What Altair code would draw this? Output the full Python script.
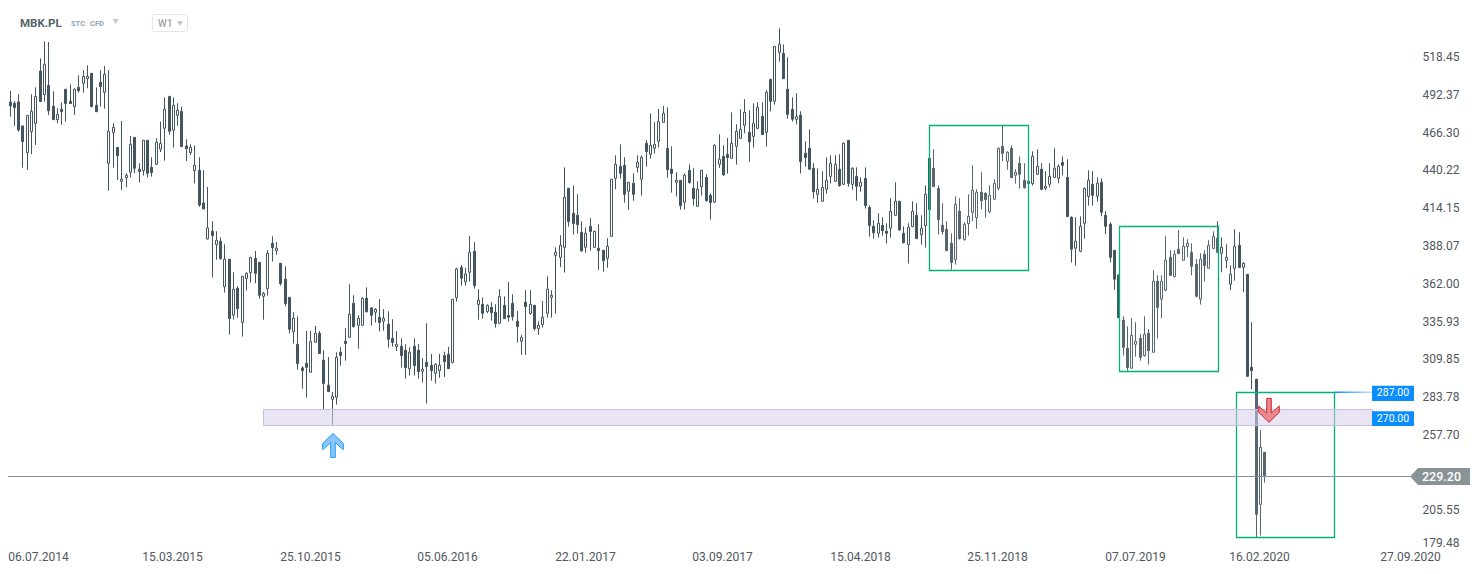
import altair as alt
import pandas as pd

opens = [
496.5,487.1,486.2,487.1,470.6,452.2,466.7,472.2,508.5,492.2,
498.6,484.1,474.9,482.1,495.9,487.6,483.9,497.2,500.0,503.4,
506.9,484.8,500.7,493.8,444.8,466.0,455.8,432.4,434.9,438.6,
462.7,440.7,439.8,460.7,442.0,444.1,454.5,469.0,491.0,467.6,
477.9,480.7,456.8,452.2,439.8,440.0,417.4,392.6,397.9,388.7,
391.0,359.7,378.6,340.0,358.6,335.1,365.4,369.4,379.2,376.5,
353.0,358.3,389.6,384.5,375.8,364.8,352.3,328.6,319.9,303.6,
306.8,300.6,321.3,327.5,308.9,291.6,282.0,283.3,314.4,322.0,
324.7,348.2,333.0,333.0,351.7,345.0,342.0,338.5,335.8,333.7,
324.0,318.3,318.5,315.8,303.1,318.5,315.8,301.3,307.5,305.4,
299.9,301.7,312.1,313.0,307.3,352.1,373.0,363.2,369.6,384.1,
347.3,347.5,342.5,345.4,342.0,334.4,346.8,339.9,348.2,335.8,
322.0,348.9,341.1,346.8,330.7,333.5,341.3,352.3,381.3,379.9,
386.8,427.6,410.3,408.9,397.2,386.8,401.3,386.8,386.2,384.8,
379.3,394.4,434.4,442.7,443.4,425.5,431.0,442.0,433.8,458.6,
451.0,455.2,460.0,473.1,455.2,440.7,431.7,433.1,417.9,440.0,
427.5,415.1,428.7,435.1,422.7,417.9,444.1,449.6,451.0,448.3,
456.5,462.0,471.0,466.2,463.4,468.9,477.2,466.2,502.8,487.6,
521.4,520.7,495.9,482.1,475.2,477.9,451.7,455.2,441.4,423.4,
418.6,426.9,435.8,432.4,440.7,430.3,460.7,430.3,435.8,428.9,
434.4,414.4,401.3,396.5,402.0,397.9,400.0,408.9,418.6,396.5,
388.7,401.1,408.9,395.6,401.8,448.3,441.4,427.5,402.0,399.3,
389.6,378.3,411.7,392.1,403.2,411.0,407.3,424.8,424.1,411.4,
420.0,427.6,456.5,446.2,455.2,436.5,444.8,433.1,432.4,430.8,
437.2,440.7,427.5,430.3,435.1,434.4,445.5,435.1,407.5,386.2,
384.1,403.4,422.0,430.3,422.0,431.7,408.9,402.7,384.8,367.8,
336.5,317.2,303.4,319.9,324.0,312.1,327.5,314.4,363.4,351.0,
357.2,379.9,366.6,385.5,377.9,387.5,383.4,375.1,351.0,382.0,
372.4,386.1,393.1,382.7,377.9,361.3,372.4,388.2,373.0,368.2,
304.0,295.8,209.5,245.4]

highs = [
504.1,494.7,487.8,492.4,470.6,477.9,492.4,497.2,517.2,529.0,
528.5,494.5,482.8,486.7,495.9,499.3,496.6,505.5,509.2,512.4,
506.9,497.2,509.0,512.0,509.0,472.4,455.8,474.0,437.9,463.7,
462.7,444.8,460.7,460.7,448.9,462.1,473.6,490.3,491.0,490.3,
486.2,483.9,461.4,457.9,457.2,449.0,440.0,428.5,404.8,397.9,
393.7,388.9,378.6,369.6,359.9,366.8,369.6,379.9,384.3,376.5,
356.0,384.8,394.4,390.5,375.8,373.7,352.3,342.0,339.2,304.7,
329.1,329.1,332.6,329.1,315.8,311.2,287.0,314.4,317.8,331.0,
361.3,353.7,339.9,352.3,359.2,345.4,344.8,351.0,344.1,342.7,
337.2,328.9,324.0,319.9,317.8,324.0,320.1,310.3,334.4,313.2,
306.8,313.2,314.8,318.1,351.0,372.8,374.6,372.8,394.7,390.3,
357.9,352.3,347.5,348.9,347.5,357.9,353.0,362.9,354.4,342.9,
326.4,357.2,357.2,346.8,335.8,349.8,366.8,357.2,386.8,395.1,
442.0,427.6,429.6,423.4,404.8,400.6,406.9,398.3,402.7,384.8,
393.1,433.8,450.3,457.9,448.9,431.7,437.9,450.3,450.3,460.7,
479.3,473.1,482.3,484.4,483.4,456.5,438.6,433.1,437.9,444.1,
441.4,432.4,440.0,437.2,424.1,457.9,464.8,457.2,462.3,480.0,
471.7,482.1,489.0,481.4,486.2,486.9,486.9,495.2,502.8,525.5,
537.9,526.9,517.9,490.3,493.1,480.7,460.0,468.3,444.8,441.4,
439.3,448.9,450.3,450.3,451.0,459.3,460.7,442.0,442.0,435.1,
442.0,415.8,405.5,410.3,407.5,403.4,420.7,431.7,418.6,401.3,
403.4,418.6,417.2,408.9,429.6,448.3,454.5,429.6,417.2,404.8,
396.5,422.0,420.7,404.1,423.4,443.4,426.9,438.6,424.8,429.6,
433.8,455.8,470.8,453.1,457.2,440.7,449.6,444.8,432.4,453.1,
454.5,444.8,439.3,444.8,455.2,444.1,449.6,447.6,408.2,407.5,
408.2,428.2,440.0,439.3,435.1,434.4,411.7,404.1,384.8,367.8,
339.2,332.3,337.9,335.1,326.8,339.2,330.3,371.0,367.5,367.5,
394.4,384.8,384.8,398.6,393.7,392.4,389.6,378.6,382.7,384.8,
391.7,397.9,404.8,393.7,388.9,374.4,399.3,397.2,376.5,368.2,
335.1,295.8,260.6,245.4]

lows = [
481.6,477.0,470.6,466.6,441.8,440.2,451.2,457.5,487.4,487.4,
478.2,474.7,472.4,471.3,473.6,485.7,478.2,493.6,493.6,496.6,
483.4,480.2,483.9,482.5,425.9,441.8,433.3,426.4,428.2,435.1,
437.9,431.5,436.3,435.1,435.6,443.7,452.6,446.6,464.6,455.6,
470.6,456.1,446.4,450.5,431.0,414.7,413.3,392.2,365.9,378.3,
378.3,355.6,326.6,336.9,338.3,325.2,357.0,362.5,362.0,351.4,
336.9,353.5,377.0,381.8,360.4,346.1,327.3,320.4,302.4,289.3,
283.1,300.6,321.3,313.5,275.3,287.2,264.2,278.3,305.2,308.6,
324.7,331.4,316.9,333.0,341.8,332.8,334.9,328.7,329.3,317.6,
318.3,315.3,303.8,296.2,298.3,298.3,296.2,293.5,279.0,294.8,
292.8,296.7,297.4,303.1,306.8,349.4,360.4,360.4,363.2,358.3,
336.9,337.6,341.3,336.2,331.4,334.4,337.6,335.6,336.2,321.1,
312.6,312.6,340.4,329.3,326.4,331.4,338.3,338.3,341.1,373.3,
369.4,401.1,395.6,396.3,383.9,383.2,384.5,386.8,371.2,370.0,
372.8,394.4,426.9,434.4,417.7,412.6,419.0,438.4,422.5,442.5,
448.0,451.5,455.8,473.1,434.9,424.6,421.8,412.8,412.8,430.8,
415.6,415.1,422.5,418.4,405.9,417.9,441.6,436.3,437.7,448.3,
443.9,462.0,465.5,445.9,455.6,468.3,464.6,456.3,480.5,485.3,
515.0,503.2,475.6,473.6,471.7,437.7,442.5,440.7,420.4,417.7,
418.6,423.9,430.8,432.4,428.7,430.3,428.7,426.6,419.0,425.2,
413.5,394.2,392.8,393.5,394.9,389.4,393.5,408.9,398.3,389.4,
375.6,400.6,392.8,388.7,386.6,412.8,428.7,395.6,395.6,384.5,
371.2,374.9,392.1,391.4,394.9,404.8,399.7,413.1,407.3,410.3,
420.0,426.2,446.2,440.4,434.9,430.8,427.3,427.3,430.8,429.4,
437.2,426.2,426.2,428.2,435.1,431.0,436.5,408.0,376.3,374.2,
383.4,392.8,415.6,415.6,418.4,408.2,395.8,376.5,357.6,338.3,
312.1,301.7,303.4,311.4,308.6,311.4,305.9,314.4,323.8,337.9,
356.5,367.5,366.1,382.0,377.9,379.9,367.5,352.3,347.3,363.4,
372.4,385.5,382.7,369.6,372.4,357.2,363.8,372.4,355.8,297.8,
288.9,186.7,187.9,224.5]

closes = [
486.7,484.4,483.2,467.8,459.8,477.9,480.7,491.0,487.4,513.1,
481.1,474.9,478.6,480.5,486.0,486.0,495.9,494.9,504.8,504.8,
483.9,480.4,497.7,506.2,466.9,469.6,450.1,433.8,436.5,457.9,
441.4,439.1,460.7,437.9,438.4,459.3,458.4,482.1,466.9,484.8,
481.4,456.3,454.9,455.8,443.4,416.0,413.3,400.2,394.9,391.7,
379.0,378.6,337.6,357.9,344.5,366.8,368.9,379.9,368.9,353.7,
355.1,382.7,386.6,386.2,361.8,348.0,330.3,337.9,306.6,301.7,
304.0,321.8,327.5,313.5,292.8,287.2,284.0,310.9,312.1,320.4,
340.6,332.1,337.9,351.7,342.4,339.9,344.1,334.9,337.9,323.4,
321.1,319.9,312.1,303.8,314.4,305.2,301.0,302.7,304.5,301.7,
306.1,305.4,307.9,303.1,351.0,371.9,365.5,368.4,383.4,360.4,
350.3,341.3,346.8,341.8,334.2,353.0,337.6,338.5,339.0,332.1,
324.7,345.9,347.5,330.7,333.0,338.5,357.9,353.7,383.4,388.2,
421.3,404.6,403.2,402.5,384.3,396.5,397.7,397.9,384.5,377.6,
387.5,433.8,444.1,437.9,423.4,431.7,423.4,445.5,448.9,452.9,
457.2,457.9,473.5,479.3,440.4,437.7,433.1,415.6,436.5,431.5,
420.4,426.9,440.0,419.0,417.7,457.2,447.6,436.8,448.7,458.6,
466.9,468.3,480.0,459.7,472.4,483.4,464.6,493.8,487.6,525.5,
526.9,503.2,478.6,475.2,477.0,445.9,448.7,440.7,425.2,426.9,
428.2,433.1,444.8,444.1,429.4,458.6,431.0,441.4,428.9,431.7,
415.6,401.8,396.9,403.4,398.3,396.5,411.7,418.6,398.8,390.1,
400.6,411.7,392.8,400.0,423.4,412.8,428.7,405.9,397.6,384.5,
376.3,416.5,392.8,402.7,408.2,426.2,424.8,419.0,419.7,422.7,
431.0,455.2,451.7,452.4,434.9,438.6,437.2,428.0,430.8,449.6,
442.7,426.9,428.9,435.8,441.4,442.7,443.4,408.0,385.5,391.0,
401.3,427.5,433.1,422.7,431.0,411.0,401.3,379.9,364.8,338.3,
317.8,303.8,326.1,322.0,310.9,326.8,315.5,363.4,345.4,363.4,
377.9,367.5,382.0,382.5,387.5,389.6,373.7,353.0,378.6,374.2,
388.2,394.4,383.4,386.8,379.9,368.2,387.5,373.0,375.8,297.8,
301.7,202.6,248.8,229.2]

date_ticks = [7.6, 38.8, 70.9, 102.8, 134.9, 166.8, 198.9, 230.8, 262.9, 291.8, 326.9]
date_labels = ["06.07.2014", "15.03.2015", "25.10.2015", "05.06.2016", "22.01.2017", "03.09.2017",
               "15.04.2018", "25.11.2018", "07.07.2019", "16.02.2020", "27.09.2020"]
price_ticks = [518.45, 492.37, 466.30, 440.22, 414.15, 388.07, 362.00, 335.93, 309.85, 283.78,
               257.70, 231.63, 205.55, 183.0]

last_price = 229.20
level_high = 287.00
level_low = 270.00

boxes = pd.DataFrame({"x1": [215.0, 259.2, 286.4], "x2": [238.0, 282.2, 309.2],
                      "top": [470.89, 401.19, 286.63], "bottom": [370.83, 301.12, 186.56]})
band = pd.DataFrame({"x1": [60.0], "x2": [318.0], "top": [274.9], "bottom": [263.86]})

INK = "#44555f"
df = pd.DataFrame({"i": range(len(opens)), "open": opens, "high": highs, "low": lows, "close": closes})
df["dir"] = ["up" if c >= o else "down" for o, c in zip(opens, closes)]

xs = alt.Scale(domain=[0.628, 326.9], nice=False, zero=False, round=True, padding=0)
ys = alt.Scale(domain=[180.0, 551.98], nice=False, zero=False, padding=0)

label_list = "[" + ",".join(f"'{s}'" for s in date_labels) + "]"
tick_list = "[" + ",".join(str(v) for v in date_ticks) + "]"
x_axis = alt.Axis(values=date_ticks, labelExpr=f"{label_list}[indexof({tick_list},datum.value)]",
                  title=None, grid=False, domain=False, ticks=False, labelPadding=4, labelFlush=False,
                  labelFontSize=12, labelFont="Roboto", labelColor="#50575d", labelOverlap=False)
y_axis = alt.Axis(values=price_ticks, orient="right",
                  labelExpr="datum.value==183 ? '179.48' : format(datum.value,'.2f')",
                  title=None, grid=False, domain=False, ticks=False, labelPadding=12,
                  labelFontSize=12, labelFont="Roboto", labelColor="#50575d", labelOverlap=False)

def X(field):
    return alt.X(f"{field}:Q", scale=xs, axis=x_axis)

def Y(field):
    return alt.Y(f"{field}:Q", scale=ys, axis=y_axis)

one = pd.DataFrame({"k": [0]})

wicks = alt.Chart(df).mark_rule(stroke=INK, strokeWidth=1, xOffset=0.5).encode(
    x=X("i"), y=Y("low"), y2="high:Q",
)
bodies = alt.Chart(df).mark_bar(size=2, xOffset=0.5, stroke=INK, strokeWidth=1).encode(
    x=X("i"), y=Y("open"), y2="close:Q",
    fill=alt.Fill("dir:N", scale=alt.Scale(domain=["up", "down"], range=["#ffffff", INK]), legend=None),
)
box_marks = alt.Chart(boxes).mark_rect(fill="#ffffff", fillOpacity=0.1, stroke="#00b27a", strokeWidth=1.3,
                                       xOffset=0.5, x2Offset=0.5).encode(
    x=X("x1"), x2="x2:Q", y=Y("top"), y2="bottom:Q",
)
last_line = alt.Chart(pd.DataFrame({"p": [last_price]})).mark_rule(stroke="#82939a", strokeWidth=1, yOffset=0.8).encode(
    x=alt.value(-6), x2=alt.value(1402), y=Y("p"),
)
band_mark = alt.Chart(band).mark_rect(fill="#d9d0ec", fillOpacity=0.55, stroke="#c9c0dd", strokeWidth=1,
                                      xOffset=0.5, x2Offset=0.5).encode(
    x=X("x1"), x2="x2:Q", y=Y("top"), y2="bottom:Q",
)
connector = alt.Chart(one).mark_rect(
    color=alt.LinearGradient(gradient="linear", x1=0, x2=1, y1=0, y2=0,
                             stops=[alt.GradientStop(color="#0a8dff", offset=0),
                                    alt.GradientStop(color="#c9e2f8", offset=1)])
).encode(x=alt.value(1327), x2=alt.value(1364), y=alt.value(383.6), y2=alt.value(385))

ARROW_UP = "M0,-1 L0.86,-0.16 L0.86,0.36 L0.19,-0.22 L0.19,1 L-0.19,1 L-0.19,-0.22 L-0.86,0.36 L-0.86,-0.16 Z"
ARROW_DOWN = "M0,1 L0.86,0.16 L0.86,-0.36 L0.19,0.22 L0.19,-1 L-0.19,-1 L-0.19,0.22 L-0.86,-0.36 L-0.86,0.16 Z"
TAG = "M-1,0 L-0.733,-0.283 L1,-0.283 L1,0.283 L-0.733,0.283 Z"

up_arrow = alt.Chart(pd.DataFrame({"i": [76.3], "p": [250.1]})).mark_point(
    shape=ARROW_UP, size=576, filled=True, fill="#8cc6fb", stroke="#1e9bff", strokeWidth=1, opacity=1
).encode(x=X("i"), y=Y("p"))
down_arrow = alt.Chart(pd.DataFrame({"i": [294.1], "p": [274.3]})).mark_point(
    shape=ARROW_DOWN, size=576, filled=True, fill="#e58a90", stroke="#d6242b", strokeWidth=1, opacity=1
).encode(x=X("i"), y=Y("p"))
price_tag = alt.Chart(pd.DataFrame({"p": [last_price]})).mark_point(
    shape=TAG, size=3600, filled=True, fill="#8a9496", strokeWidth=0, opacity=1, yOffset=0.8
).encode(x=alt.value(1432), y=Y("p"))
tag_text = alt.Chart(pd.DataFrame({"p": [last_price]})).mark_text(
    text=f"{last_price:.2f}", align="left", baseline="middle", font="Roboto", fontSize=12.5,
    fontWeight=500, color="#ffffff", yOffset=0.8
).encode(x=alt.value(1414), y=Y("p"))

def level_flag(value, y1, y2):
    rect = alt.Chart(one).mark_rect(fill="#0a8dff").encode(
        x=alt.value(1364), x2=alt.value(1406), y=alt.value(y1), y2=alt.value(y2))
    text = alt.Chart(one).mark_text(text=f"{value:.2f}", align="center", baseline="middle", font="Roboto",
                                    fontSize=10.5, color="#ffffff").encode(
        x=alt.value(1385), y=alt.value((y1 + y2) / 2))
    return [rect, text]

def header_text(s, x, y, size, color, weight="bold"):
    return alt.Chart(one).mark_text(text=s, align="left", baseline="middle", font="Roboto",
                                    fontSize=size, fontWeight=weight, color=color).encode(
        x=alt.value(x - 8), y=alt.value(y - 8))

def caret(x, y):
    return alt.Chart(one).mark_point(shape="triangle-down", size=36, filled=True, fill="#c8c8c8",
                                     strokeWidth=0, opacity=1).encode(x=alt.value(x - 8), y=alt.value(y - 8))

w1_box = alt.Chart(one).mark_rect(fill="#ffffff", stroke="#e6e6e6", strokeWidth=1, cornerRadius=2).encode(
    x=alt.value(144.5), x2=alt.value(179.5), y=alt.value(6.5), y2=alt.value(23.5))

chart = alt.layer(
    wicks, bodies, box_marks, last_line, band_mark, connector, up_arrow, down_arrow,
    *level_flag(level_high, 377.7, 393.0), *level_flag(level_low, 403.3, 418.0),
    price_tag, tag_text,
    header_text("MBK.PL", 20, 23.5, 11.5, "#55626b"),
    header_text("STC", 71, 24, 7.5, "#8ea3b5"),
    header_text("CFD", 90, 24, 7.5, "#8ea3b5"),
    caret(115.7, 21.5),
    w1_box,
    header_text("W1", 158, 23.5, 10, "#a3a3a3", 500),
    caret(180, 23.5),
).properties(
    width=1402, height=539,
    autosize=alt.AutoSizeParams(type="none"),
    padding={"left": 0, "top": 0, "right": 64, "bottom": 21},
).configure_view(stroke=None)

chart.save("out.html", embed_options={"renderer": "svg", "actions": False})
